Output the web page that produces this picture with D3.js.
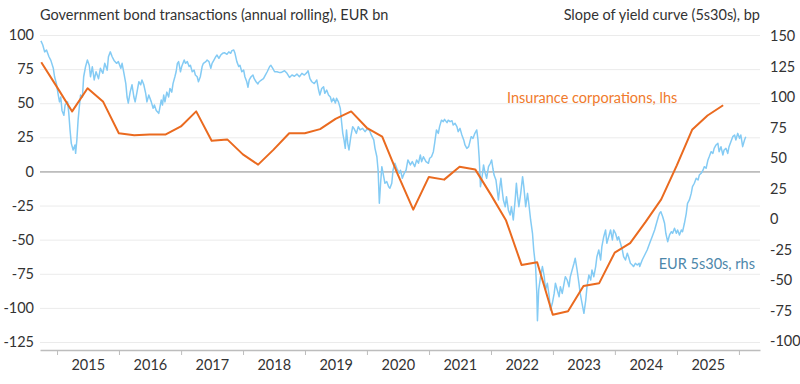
<html lang="en">
  <head>
    <meta charset="UTF-8" />
    <title>Government bond transactions vs 5s30s slope</title>
    <script src="https://d3js.org/d3.v7.min.js"></script>
  </head>
  <style>
    body {
      margin: 0px;
      overflow: hidden;
      background: #fff;
    }
    text {
      font-family: Lato, "Noto Sans", sans-serif;
      font-size: 14.5px;
      fill: #333;
    }
  </style>
  <body>
    <svg width="800" height="384"></svg>
  </body>
  <footer>
    <script>
      // insurance corporations, government bond transactions (annual rolling), EUR bn, lhs
      var quarters = [
        "2014Q3", "2014Q4", "2015Q1", "2015Q2", "2015Q3", "2015Q4",
        "2016Q1", "2016Q2", "2016Q3", "2016Q4", "2017Q1", "2017Q2",
        "2017Q3", "2017Q4", "2018Q1", "2018Q2", "2018Q3", "2018Q4",
        "2019Q1", "2019Q2", "2019Q3", "2019Q4", "2020Q1", "2020Q2",
        "2020Q3", "2020Q4", "2021Q1", "2021Q2", "2021Q3", "2021Q4",
        "2022Q1", "2022Q2", "2022Q3", "2022Q4", "2023Q1", "2023Q2",
        "2023Q3", "2023Q4", "2024Q1", "2024Q2", "2024Q3", "2024Q4",
        "2025Q1", "2025Q2", "2025Q3"
      ];
      var insurance = [
        80, 62, 44, 61, 51, 28,
        26.5, 27, 27, 33, 44, 22.5,
        23.5, 12.5, 5, 16, 28, 28,
        31, 38.5, 44, 32, 25.5, -2,
        -28, -4, -6, 3.5, 1.5, -17,
        -36, -68.5, -66.5, -105, -102.5, -84,
        -82, -59.5, -52.5, -37, -20.5, 4.5,
        30.5, 41, 48.5
      ];

      // EUR 5s30s slope, bp, rhs: [decimal year, value]
      var slope = [
        [2014.74, 146], [2014.77, 142.6], [2014.80, 137], [2014.83, 138.5], [2014.87, 133],
        [2014.90, 130], [2014.94, 123.5], [2014.96, 116.6], [2014.99, 111], [2015.02, 101.6],
        [2015.04, 96], [2015.06, 100], [2015.08, 89], [2015.11, 85], [2015.13, 93.4],
        [2015.17, 96], [2015.19, 86.6], [2015.21, 73], [2015.23, 62], [2015.26, 56.6],
        [2015.29, 60.7], [2015.30, 53.8], [2015.32, 64.8], [2015.34, 81], [2015.36, 92],
        [2015.38, 101.6], [2015.41, 100], [2015.43, 116.6], [2015.46, 124.8], [2015.49, 130.3],
        [2015.52, 126], [2015.54, 116.6], [2015.57, 124.8], [2015.60, 114], [2015.63, 120.7],
        [2015.67, 115], [2015.70, 123.5], [2015.74, 119.4], [2015.77, 127.6], [2015.81, 122],
        [2015.83, 133], [2015.86, 137], [2015.89, 133], [2015.92, 130], [2015.96, 127.6],
        [2015.99, 129], [2016.03, 123.5], [2016.05, 127.6], [2016.08, 119.4], [2016.11, 111],
        [2016.13, 100], [2016.15, 95], [2016.18, 104], [2016.21, 110], [2016.24, 100],
        [2016.26, 96], [2016.29, 104], [2016.32, 112.5], [2016.35, 110], [2016.37, 114],
        [2016.40, 110], [2016.43, 103], [2016.45, 96], [2016.48, 101.6], [2016.52, 96],
        [2016.55, 90.7], [2016.57, 93.4], [2016.60, 89], [2016.64, 86.6], [2016.65, 89],
        [2016.68, 97.5], [2016.70, 93.4], [2016.72, 101.6], [2016.74, 96], [2016.77, 104],
        [2016.80, 100], [2016.82, 107], [2016.85, 104], [2016.87, 111], [2016.90, 116.6],
        [2016.92, 120.7], [2016.94, 127.6], [2016.96, 129], [2016.99, 120.7], [2017.01, 125],
        [2017.05, 130.3], [2017.07, 127.6], [2017.10, 129], [2017.13, 125], [2017.15, 126],
        [2017.18, 120.7], [2017.21, 122], [2017.23, 118], [2017.26, 116.6], [2017.28, 112.5],
        [2017.31, 116.6], [2017.34, 125], [2017.36, 127.6], [2017.40, 129], [2017.42, 130.3],
        [2017.45, 129], [2017.48, 123.5], [2017.50, 127.6], [2017.53, 130.3], [2017.56, 133],
        [2017.58, 134.4], [2017.61, 131.7], [2017.64, 134.4], [2017.67, 135.8], [2017.70, 136.3],
        [2017.74, 135], [2017.77, 137], [2017.80, 135.8], [2017.82, 138], [2017.85, 138.5],
        [2017.87, 135.8], [2017.90, 129], [2017.93, 125], [2017.95, 126], [2017.98, 120.7],
        [2018.01, 122], [2018.03, 116.6], [2018.06, 112.5], [2018.08, 108], [2018.10, 114],
        [2018.13, 116.6], [2018.16, 118], [2018.18, 115], [2018.21, 112.5], [2018.24, 110.7],
        [2018.26, 112.5], [2018.30, 114], [2018.33, 115], [2018.36, 118], [2018.39, 120.7],
        [2018.43, 125], [2018.45, 126], [2018.48, 123.5], [2018.51, 120.7], [2018.55, 120.7],
        [2018.59, 120], [2018.61, 120], [2018.67, 121.5], [2018.71, 119.4], [2018.75, 116],
        [2018.79, 118], [2018.83, 117], [2018.87, 118.8], [2018.91, 116.6], [2018.95, 119.4],
        [2018.99, 118], [2019.03, 120], [2019.05, 121.5], [2019.08, 115], [2019.11, 112.5],
        [2019.15, 111], [2019.19, 114], [2019.22, 105.7], [2019.24, 101.6], [2019.27, 107],
        [2019.30, 108.4], [2019.32, 103], [2019.35, 105.7], [2019.38, 101.6], [2019.41, 100],
        [2019.43, 96], [2019.46, 99], [2019.49, 95], [2019.51, 99], [2019.54, 96],
        [2019.57, 90.7], [2019.59, 79.8], [2019.61, 70.2], [2019.63, 64.8], [2019.65, 57.9],
        [2019.67, 73], [2019.69, 62], [2019.71, 56.6], [2019.74, 67.5], [2019.77, 75.7],
        [2019.79, 74.3], [2019.83, 70.2], [2019.86, 75.7], [2019.89, 73], [2019.93, 74.3],
        [2019.97, 71.6], [2020.00, 73.5], [2020.04, 73], [2020.07, 68.9], [2020.11, 64.8],
        [2020.13, 57.9], [2020.16, 51], [2020.18, 40], [2020.20, 12.9], [2020.22, 29.3],
        [2020.24, 42.9], [2020.27, 34.7], [2020.29, 29.3], [2020.32, 30.6], [2020.35, 26.5],
        [2020.37, 25.2], [2020.40, 29.3], [2020.42, 40], [2020.45, 45.7], [2020.48, 41.6],
        [2020.52, 37.5], [2020.54, 40], [2020.57, 33.4], [2020.60, 37.5], [2020.63, 40],
        [2020.66, 48.4], [2020.70, 44.3], [2020.73, 47], [2020.77, 42.9], [2020.80, 48.4],
        [2020.83, 45.7], [2020.86, 52.5], [2020.88, 47], [2020.91, 51], [2020.95, 47],
        [2020.99, 45.7], [2021.01, 49.8], [2021.04, 51], [2021.07, 55.2], [2021.09, 62],
        [2021.12, 73], [2021.15, 70.2], [2021.17, 75.7], [2021.20, 81], [2021.23, 79.8],
        [2021.25, 81.7], [2021.29, 79], [2021.31, 81], [2021.34, 79.8], [2021.37, 80.6],
        [2021.39, 77], [2021.42, 78.4], [2021.45, 75.7], [2021.47, 71.6], [2021.50, 74.3],
        [2021.53, 68.9], [2021.56, 64.8], [2021.58, 60.7], [2021.61, 57.9], [2021.64, 59.3],
        [2021.66, 63.4], [2021.68, 67.5], [2021.71, 66.1], [2021.74, 70.2], [2021.77, 73],
        [2021.79, 64.8], [2021.81, 49.8], [2021.82, 38.8], [2021.83, 26.5], [2021.86, 36],
        [2021.88, 44.3], [2021.90, 38.8], [2021.93, 33.4], [2021.96, 42.9], [2021.99, 45.7],
        [2022.01, 48.4], [2022.03, 41.6], [2022.05, 36], [2022.08, 32], [2022.10, 23.8],
        [2022.12, 15.6], [2022.14, 25.2], [2022.16, 33.4], [2022.18, 23.8], [2022.20, 15.6],
        [2022.23, 10.1], [2022.25, 18.3], [2022.28, 7.4], [2022.31, 3.3], [2022.33, 10.1],
        [2022.36, -0.8], [2022.39, 15.6], [2022.41, 29.3], [2022.43, 18.3], [2022.45, 10.1],
        [2022.48, 21], [2022.51, 34.7], [2022.53, 26.5], [2022.56, 10.1], [2022.59, 21],
        [2022.61, 12.9], [2022.64, -0.8], [2022.67, -11.7], [2022.69, -25.4], [2022.72, -39],
        [2022.74, -61], [2022.75, -83.4], [2022.77, -58.2], [2022.80, -47.3], [2022.83, -39],
        [2022.86, -47.3], [2022.88, -58.2], [2022.91, -52.7], [2022.94, -63.7], [2022.96, -74.6],
        [2022.99, -69.1], [2023.02, -61], [2023.04, -52.7], [2023.07, -58.2], [2023.10, -63.7],
        [2023.12, -55.5], [2023.15, -61], [2023.18, -52.7], [2023.20, -47.3], [2023.23, -50],
        [2023.26, -55.5], [2023.28, -47.3], [2023.31, -41.8], [2023.34, -36.3], [2023.36, -32.2],
        [2023.39, -41.8], [2023.42, -52.7], [2023.44, -61], [2023.47, -69.1], [2023.50, -77.3],
        [2023.53, -66.4], [2023.55, -55.5], [2023.58, -45.9], [2023.61, -50], [2023.63, -41.8],
        [2023.66, -47.3], [2023.69, -39], [2023.71, -30.9], [2023.74, -25.4], [2023.77, -33.6],
        [2023.79, -22.7], [2023.82, -14.5], [2023.85, -9], [2023.87, -19.9], [2023.90, -14.5],
        [2023.93, -9], [2023.96, -17.2], [2023.98, -9], [2024.01, -11.7], [2024.04, -17.2],
        [2024.06, -14.5], [2024.09, -19.9], [2024.12, -25.4], [2024.14, -30.9], [2024.17, -33.6],
        [2024.20, -28.1], [2024.22, -30.9], [2024.25, -36.3], [2024.28, -37.7], [2024.30, -39],
        [2024.33, -36.3], [2024.36, -37.7], [2024.39, -36.3], [2024.40, -39], [2024.44, -33.6],
        [2024.48, -29.5], [2024.52, -25.4], [2024.56, -19.9], [2024.60, -14.5], [2024.64, -9],
        [2024.67, -3.5], [2024.70, 1.9], [2024.72, 4.7], [2024.74, 6], [2024.77, 1.9],
        [2024.80, -3.5], [2024.82, -11.7], [2024.85, -18.6], [2024.88, -13.1], [2024.91, -10.4],
        [2024.93, -11.7], [2024.96, -7.6], [2024.99, -11.7], [2025.01, -9], [2025.04, -13.1],
        [2025.07, -9], [2025.09, -10.4], [2025.12, -3.5], [2025.15, 4.7], [2025.17, 12.9],
        [2025.20, 15.6], [2025.23, 21], [2025.25, 26.5], [2025.28, 29.3], [2025.31, 33.4],
        [2025.34, 32], [2025.36, 36], [2025.39, 37.5], [2025.42, 40], [2025.44, 42.9],
        [2025.47, 41.6], [2025.50, 48.4], [2025.52, 51], [2025.55, 55.2], [2025.58, 53.8],
        [2025.60, 57.9], [2025.63, 60.7], [2025.66, 62], [2025.68, 55.2], [2025.71, 59.3],
        [2025.74, 52.5], [2025.76, 56.6], [2025.79, 57.9], [2025.82, 53.8], [2025.84, 59.3],
        [2025.87, 63.4], [2025.90, 67.5], [2025.93, 68.9], [2025.95, 64.8], [2025.98, 70.2],
        [2026.01, 66.1], [2026.03, 68.9], [2026.06, 59.3], [2026.09, 64.8], [2026.11, 67.5]
      ];

      var years = [2015, 2016, 2017, 2018, 2019, 2020, 2021, 2022, 2023, 2024, 2025];
      var leftTicks = [100, 75, 50, 25, 0, -25, -50, -75, -100, -125];
      var rightTicks = [150, 125, 100, 75, 50, 25, 0, -25, -50, -75, -100];

      var svg = d3.select("svg");
      var margin = { left: 40, right: 40, top: 35, bottom: 34 };
      var width = 800;
      var height = 384;
      var bottom = height - margin.bottom;

      // decimal year -> Date
      function yearToDate(y) {
        var yr = Math.floor(y);
        var start = new Date(yr, 0, 1).getTime();
        var end = new Date(yr + 1, 0, 1).getTime();
        return new Date(start + (y - yr) * (end - start));
      }
      // "2014Q3" -> quarter end
      function quarterEnd(q) {
        var yr = +q.slice(0, 4);
        var n = +q.slice(5);
        return new Date(yr, n * 3, 0);
      }

      var x = d3
        .scaleTime()
        .domain([yearToDate(2014.725), yearToDate(2026.34)])
        .range([margin.left, width - margin.right]);

      var yLeft = d3.scaleLinear().domain([-125, 100]).range([342, 35]);
      var yRight = d3.scaleLinear().domain([-100, 150]).range([341, 36]);

      // gridlines
      svg
        .append("g")
        .attr("transform", `translate(${margin.left},0)`)
        .call(d3.axisLeft(yLeft).tickValues(leftTicks).tickSize(-(width - margin.left - margin.right)).tickFormat(""))
        .call(function (g) {
          g.select(".domain").remove();
          g.selectAll(".tick line")
            .attr("stroke", function (d) { return d === 0 ? "#8a8a8a" : "#ebebeb"; })
            .attr("stroke-width", 1);
        });

      // left labels
      svg
        .append("g")
        .attr("transform", `translate(${margin.left},0)`)
        .call(d3.axisLeft(yLeft).tickValues(leftTicks).tickSize(0).tickPadding(6).tickFormat(function (d) { return String(d); }))
        .call(function (g) {
          g.select(".domain").remove();
          g.selectAll("text").attr("font-size", 14.5).attr("font-family", "Lato, sans-serif").attr("fill", "#333");
        });

      // right labels
      svg
        .append("g")
        .attr("transform", `translate(${width - margin.right},0)`)
        .call(d3.axisRight(yRight).tickValues(rightTicks).tickSize(0).tickPadding(10).tickFormat(function (d) { return String(d); }))
        .call(function (g) {
          g.select(".domain").remove();
          g.selectAll("text").attr("font-size", 14.5).attr("font-family", "Lato, sans-serif").attr("fill", "#333");
        });

      // x axis: year ticks and mid-year labels
      var yearStarts = d3.range(2015, 2027).map(function (y) { return new Date(y, 0, 1); });
      svg
        .append("g")
        .attr("transform", `translate(0,${bottom})`)
        .call(d3.axisBottom(x).tickValues(yearStarts).tickSize(5).tickSizeOuter(0).tickFormat(""))
        .call(function (g) {
          g.select(".domain").attr("stroke", "#bdbdbd").attr("stroke-width", 1.5);
          g.selectAll(".tick line").attr("stroke", "#bdbdbd");
        });
      svg
        .append("g")
        .attr("transform", `translate(0,${bottom})`)
        .call(d3.axisBottom(x).tickValues(years.map(function (y) { return new Date(y, 6, 1); })).tickSize(0).tickPadding(10).tickFormat(d3.timeFormat("%Y")))
        .call(function (g) {
          g.select(".domain").remove();
          g.selectAll("text").attr("font-size", 14.5).attr("font-family", "Lato, sans-serif").attr("fill", "#333");
        });

      // lines
      var slopeLine = d3
        .line()
        .x(function (d) { return x(yearToDate(d[0])); })
        .y(function (d) { return yRight(d[1]); });
      svg
        .append("path")
        .datum(slope)
        .attr("fill", "none")
        .attr("stroke", "#84cbf4")
        .attr("stroke-width", 1.5)
        .attr("stroke-linejoin", "round")
        .attr("d", slopeLine);

      var insLine = d3
        .line()
        .x(function (d, i) { return x(quarterEnd(quarters[i])); })
        .y(function (d) { return yLeft(d); });
      svg
        .append("path")
        .datum(insurance)
        .attr("fill", "none")
        .attr("stroke", "#ea6a1f")
        .attr("stroke-width", 2)
        .attr("stroke-linejoin", "round")
        .attr("d", insLine);

      // titles and labels
      svg.append("text").attr("x", 40).attr("y", 20).text("Government bond transactions (annual rolling), EUR bn");
      svg.append("text").attr("x", 760).attr("y", 20).attr("text-anchor", "end").text("Slope of yield curve (5s30s), bp");
      svg.append("text").attr("x", 507).attr("y", 103).style("fill", "#f07a2c").text("Insurance corporations, lhs");
      svg.append("text").attr("x", 755).attr("y", 269).attr("text-anchor", "end").style("fill", "#4d87aa").text("EUR 5s30s, rhs");
    </script>
  </footer>
</html>
